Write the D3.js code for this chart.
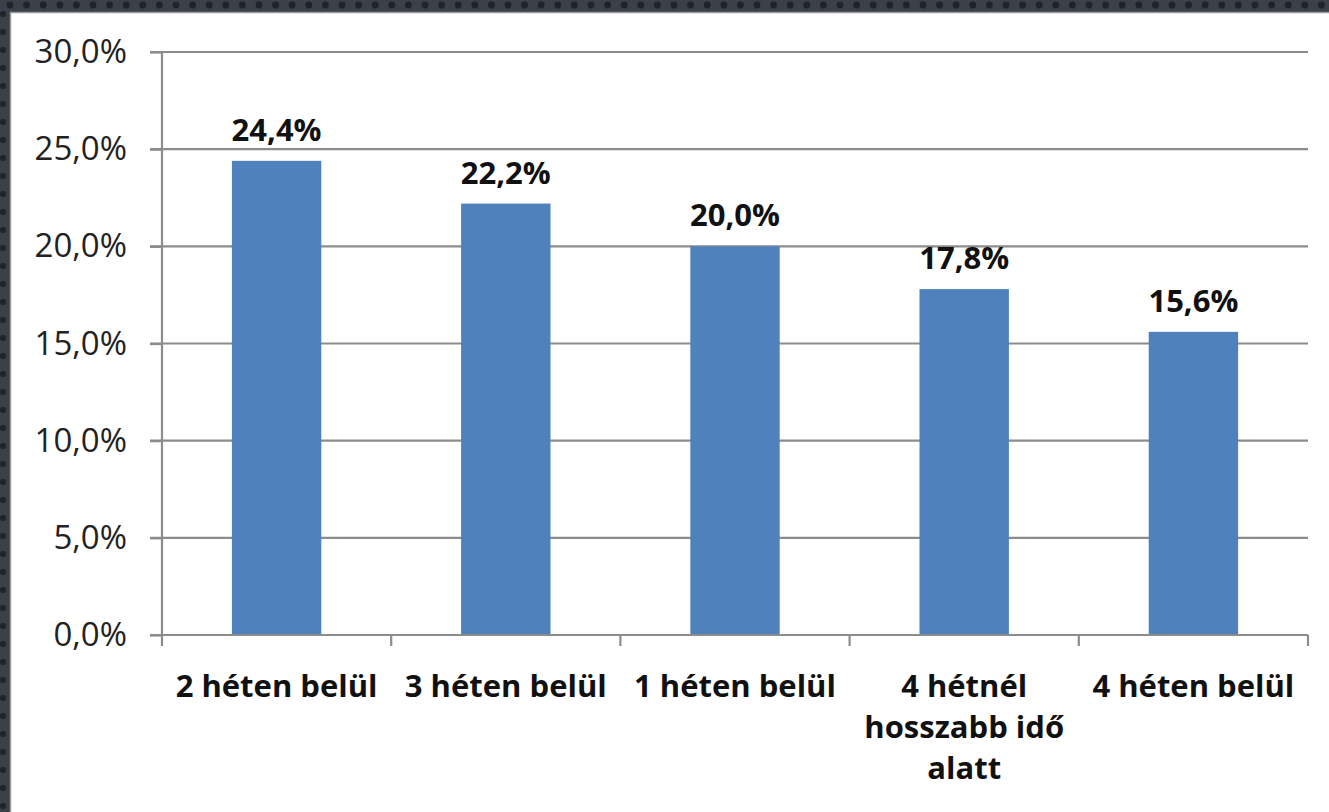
<!DOCTYPE html>
<html><head><meta charset="utf-8">
<script src="https://cdn.jsdelivr.net/npm/d3@7"></script>
<style>html,body{margin:0;padding:0;background:#fff;overflow:hidden}</style>
</head><body>
<svg id="c" width="1329" height="812"></svg>
<script>
const categories = ["2 héten belül", "3 héten belül", "1 héten belül", "4 hétnél hosszabb idő alatt", "4 héten belül"];
const categoryLines = [["2 héten belül"], ["3 héten belül"], ["1 héten belül"], ["4 hétnél", "hosszabb idő", "alatt"], ["4 héten belül"]];
const values = [24.4, 22.2, 20.0, 17.8, 15.6];
const yTicks = [0, 5, 10, 15, 20, 25, 30];

(function() {
const svg = d3.select("#c");
const W = 1329, H = 812;
svg.append("rect").attr("width", W).attr("height", H).attr("fill", "#fff");

// dark frame (top & left)
const frame = svg.append("g");
frame.append("rect").attr("x", 0).attr("y", 0).attr("width", W).attr("height", 12).attr("fill", "#3b4049");
frame.append("rect").attr("x", 0).attr("y", 0).attr("width", 10).attr("height", H).attr("fill", "#3b4049");
frame.selectAll("circle.t").data(d3.range(10, W, 16.6)).join("circle").attr("class", "t")
  .attr("cx", d => d).attr("cy", 5).attr("r", 3.4).attr("fill", "#1f232a");
frame.selectAll("circle.l").data(d3.range(14, H, 18)).join("circle").attr("class", "l")
  .attr("cx", 3).attr("cy", d => d).attr("r", 3).attr("fill", "#1f232a");
frame.append("line").attr("x1", 10).attr("x2", W).attr("y1", 12.5).attr("y2", 12.5).attr("stroke", "#9a9a9a").attr("stroke-width", 1.5);
frame.append("line").attr("x1", 10.5).attr("x2", 10.5).attr("y1", 12).attr("y2", H).attr("stroke", "#9a9a9a").attr("stroke-width", 1.5);

const mLeft = 162, mRight = 1308, mTop = 52, mBottom = 635;
const y = d3.scaleLinear().domain([0, 30]).range([mBottom, mTop]);
const x = d3.scaleBand().domain(categories).range([mLeft, mRight]).paddingInner(0.61).paddingOuter(0.305);

const font = "'Open Sans', 'Liberation Sans', sans-serif";

// gridlines
svg.append("g").selectAll("line").data(yTicks.filter(t => t > 0)).join("line")
  .attr("x1", mLeft - 12).attr("x2", mRight)
  .attr("y1", d => y(d)).attr("y2", d => y(d))
  .attr("stroke", "#8c8c8c").attr("stroke-width", 2.2);

// y axis
const yAxis = d3.axisLeft(y).tickValues(yTicks).tickSize(12).tickPadding(23)
  .tickFormat(d => d3.format(".1f")(d).replace(".", ",") + "%");
const ya = svg.append("g").attr("transform", `translate(${mLeft},0)`).call(yAxis);
ya.select(".domain").attr("stroke", "#8c8c8c").attr("stroke-width", 2.2).attr("d", `M0,${mTop}V${mBottom}`);
ya.selectAll(".tick line").attr("stroke", "#8c8c8c").attr("stroke-width", 2.2);
ya.selectAll(".tick text").attr("font-family", font).attr("font-size", 33).attr("fill", "#222");

// bars
svg.append("g").selectAll("rect").data(values).join("rect")
  .attr("x", (d, i) => x(categories[i])).attr("width", x.bandwidth())
  .attr("y", d => y(d)).attr("height", d => y(0) - y(d))
  .attr("fill", "#4f81bd");

// x axis line and boundary ticks
svg.append("line").attr("x1", mLeft - 12).attr("x2", mRight).attr("y1", mBottom).attr("y2", mBottom)
  .attr("stroke", "#8c8c8c").attr("stroke-width", 2.2);
const step = x.step();
svg.append("g").selectAll("line").data(d3.range(0, categories.length + 1)).join("line")
  .attr("x1", i => mLeft + i * step).attr("x2", i => mLeft + i * step)
  .attr("y1", mBottom).attr("y2", mBottom + 11)
  .attr("stroke", "#8c8c8c").attr("stroke-width", 2.2);

// value labels
svg.append("g").selectAll("text").data(values).join("text")
  .attr("x", (d, i) => x(categories[i]) + x.bandwidth() / 2)
  .attr("y", d => y(d) - 20)
  .attr("text-anchor", "middle").attr("font-family", font).attr("font-weight", "bold")
  .attr("font-size", 31).attr("fill", "#111")
  .text(d => d3.format(".1f")(d).replace(".", ",") + "%");

// category labels
const cl = svg.append("g").selectAll("text").data(categoryLines).join("text")
  .attr("text-anchor", "middle").attr("font-family", font).attr("font-weight", "bold")
  .attr("font-size", 31).attr("fill", "#111");
cl.each(function(lines, i) {
  const cx = x(categories[i]) + x.bandwidth() / 2;
  d3.select(this).selectAll("tspan").data(lines).join("tspan")
    .attr("x", cx).attr("y", (d, j) => 697 + j * 41).text(d => d);
});
})();
</script>
</body></html>
